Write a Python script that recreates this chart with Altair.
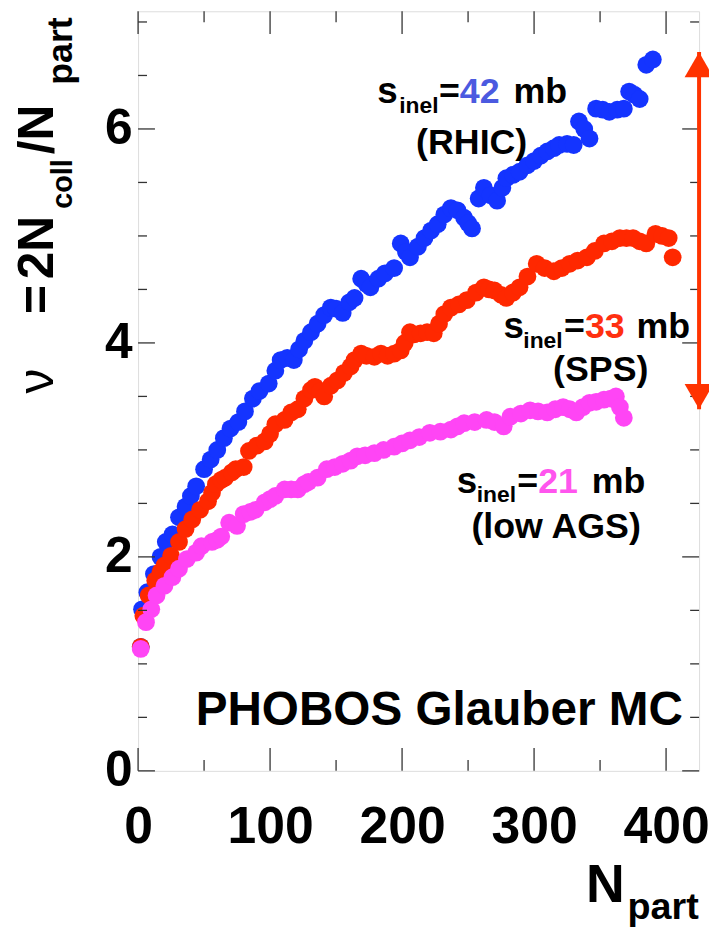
import altair as alt
import pandas as pd

# ---------------- data ----------------
blue_n = [2, 3, 7, 12, 17, 21, 26, 31, 36, 40, 44, 50, 55, 60, 65, 70, 76, 81, 87, 92,
          99, 104, 108, 113, 118, 122, 126, 131, 136, 141, 146, 150, 155, 160, 164, 169,
          173, 176, 182, 187, 194, 199, 203, 206, 212, 217, 222, 227, 232, 237, 242, 247,
          250, 253, 258, 262, 267, 272, 276, 279, 284, 289, 295, 300, 305, 310, 315, 319,
          325, 330, 334, 338, 342, 347, 352, 357, 363, 368, 372, 376, 380, 385, 390]
blue_v = [1.16, 1.51, 1.67, 1.84, 2.0, 2.14, 2.21, 2.37, 2.47, 2.57, 2.66, 2.82, 2.91, 3.0,
          3.11, 3.2, 3.26, 3.36, 3.48, 3.55, 3.62, 3.74, 3.84, 3.86, 3.84, 3.94, 4.02, 4.1,
          4.18, 4.26, 4.33, 4.32, 4.28, 4.38, 4.42, 4.6, 4.55, 4.52, 4.6, 4.65, 4.7, 4.93,
          4.85, 4.8, 4.9, 4.98, 5.05, 5.11, 5.2, 5.26, 5.24, 5.17, 5.12, 5.07, 5.35, 5.45,
          5.38, 5.33, 5.45, 5.54, 5.57, 5.6, 5.66, 5.7, 5.75, 5.79, 5.82, 5.85, 5.86, 5.85,
          6.07, 6.0, 5.91, 6.19, 6.18, 6.16, 6.18, 6.19, 6.35, 6.32, 6.28, 6.6, 6.65]

red_n = [2, 4, 8, 13, 17, 20, 25, 31, 36, 41, 47, 53, 56, 59, 63, 66, 71, 74, 80, 84, 90,
         96, 100, 104, 111, 116, 121, 126, 131, 134, 138, 141, 146, 151, 156, 161, 164, 169,
         173, 179, 184, 189, 194, 199, 202, 206, 209, 214, 219, 224, 228, 232, 237, 243, 249,
         256, 262, 266, 270, 275, 279, 284, 289, 295, 302, 308, 315, 321, 327, 333, 340, 346,
         353, 359, 365, 370, 375, 380, 385, 392, 397, 402, 405]
red_v = [1.16, 1.45, 1.64, 1.78, 1.86, 1.92, 2.01, 2.14, 2.26, 2.35, 2.44, 2.52, 2.6, 2.68,
         2.72, 2.74, 2.79, 2.82, 2.84, 2.99, 3.04, 3.08, 3.15, 3.24, 3.28, 3.35, 3.38, 3.48,
         3.56, 3.59, 3.55, 3.5, 3.6, 3.65, 3.72, 3.78, 3.84, 3.9, 3.88, 3.87, 3.9, 3.88, 3.9,
         3.93, 4.0, 4.1, 4.08, 4.09, 4.1, 4.09, 4.18, 4.27, 4.33, 4.36, 4.4, 4.47, 4.52, 4.5,
         4.49, 4.45, 4.42, 4.47, 4.52, 4.62, 4.74, 4.7, 4.67, 4.7, 4.74, 4.77, 4.8, 4.86,
         4.93, 4.95, 4.98, 4.98, 4.98, 4.95, 4.93, 5.02, 5.0, 4.98, 4.8]

mag_n = [2, 6, 10, 14, 20, 26, 31, 37, 44, 48, 56, 60, 63, 69, 75, 80, 85, 89, 96, 100, 104,
         111, 116, 121, 126, 129, 136, 143, 149, 155, 161, 166, 172, 179, 186, 194, 200, 206,
         213, 221, 229, 237, 242, 247, 255, 264, 270, 277, 282, 290, 297, 303, 310, 316, 322,
         327, 332, 337, 342, 347, 353, 358, 362, 365, 368]
mag_v = [1.14, 1.39, 1.51, 1.64, 1.73, 1.81, 1.89, 1.98, 2.04, 2.1, 2.14, 2.16, 2.19, 2.32,
         2.29, 2.4, 2.42, 2.44, 2.51, 2.54, 2.57, 2.63, 2.63, 2.63, 2.68, 2.7, 2.74, 2.82, 2.84,
         2.87, 2.9, 2.94, 2.95, 2.97, 3.0, 3.03, 3.06, 3.09, 3.12, 3.16, 3.17, 3.19, 3.22, 3.25,
         3.26, 3.28, 3.26, 3.22, 3.31, 3.34, 3.37, 3.36, 3.35, 3.38, 3.4, 3.38, 3.35, 3.4, 3.44,
         3.45, 3.47, 3.48, 3.5, 3.4, 3.3]

series_names = ["42 mb (RHIC)", "33 mb (SPS)", "21 mb (low AGS)"]
series_colors = ["#1434ff", "#ff2800", "#ff45f5"]

x_major = [0, 100, 200, 300, 400]
x_minor = [50, 150, 250, 350]
y_major = [0, 2, 4, 6]
y_minor = [0.5, 1, 1.5, 2.5, 3, 3.5, 4.5, 5, 5.5, 6.5, 7]

arrow_x = [425]
arrow_top = [6.72]
arrow_bottom = [3.38]
arrow_head_up = [6.6]
arrow_head_down = [3.5]

# ---------------- layout ----------------
W, H = 565, 765
FONT = "Liberation Sans"

rows = []
for i, (ns, vs) in enumerate([(blue_n, blue_v), (red_n, red_v), (mag_n, mag_v)]):
    for n, v in zip(ns, vs):
        rows.append({"npart": n, "nu": v, "series": series_names[i], "ord": i})
df = pd.DataFrame(rows)

xs = alt.Scale(domain=[0, 425], nice=False, zero=False)
ys = alt.Scale(domain=[0, 7.1], nice=False, zero=False)

x_axis = alt.Axis(values=x_major, format="d", labelFontSize=52, labelFont=FONT,
                  labelFontWeight="bold", labelColor="black", ticks=False, tickSize=0,
                  domain=False, grid=False, labelPadding=31, title=None, labelFlush=False)
y_axis = alt.Axis(values=y_major, format="d", labelFontSize=50, labelFont=FONT,
                  labelFontWeight="bold", labelColor="black", ticks=False, tickSize=0,
                  domain=False, grid=False, labelPadding=6, title=None, labelFlush=False)

points = alt.Chart(df).mark_circle(size=320, opacity=1).encode(
    x=alt.X("npart:Q", scale=xs, axis=x_axis),
    y=alt.Y("nu:Q", scale=ys, axis=y_axis),
    color=alt.Color("series:N", scale=alt.Scale(domain=series_names, range=series_colors),
                    legend=None),
    order=alt.Order("ord:Q"),
)

TICK_COLOR = "#333"


def yticks(vals, length, right=False):
    d = pd.DataFrame({"v": vals})
    x0 = W if right else 0
    x1 = W - length if right else length
    return alt.Chart(d).mark_rule(color=TICK_COLOR, strokeWidth=1.3).encode(
        y=alt.Y("v:Q", scale=ys), x=alt.value(x0), x2=alt.value(x1))


def xticks(vals, length, top=False):
    d = pd.DataFrame({"n": vals})
    y0 = 0 if top else H
    y1 = length if top else H - length
    return alt.Chart(d).mark_rule(color=TICK_COLOR, strokeWidth=1.3).encode(
        x=alt.X("n:Q", scale=xs), y=alt.value(y0), y2=alt.value(y1))


ticks = [
    yticks(y_major, 17), yticks(y_minor, 9),
    yticks(y_major, 17, right=True), yticks(y_minor, 9, right=True),
    xticks(x_major, 23), xticks(x_minor, 11),
    xticks(x_major, 23, top=True), xticks(x_minor, 11, top=True),
]

arrow_df = pd.DataFrame({"x": arrow_x, "top": arrow_top, "bot": arrow_bottom})
ARROW = "#ff3300"
arrow_line = alt.Chart(arrow_df).mark_rule(color=ARROW, strokeWidth=4).encode(
    x=alt.X("x:Q", scale=xs), y=alt.Y("top:Q", scale=ys), y2="bot:Q")
head_up = alt.Chart(pd.DataFrame({"x": arrow_x, "v": arrow_head_up})).mark_point(
    shape="triangle-up", filled=True, size=850, color=ARROW, opacity=1).encode(
    x=alt.X("x:Q", scale=xs), y=alt.Y("v:Q", scale=ys))
head_down = alt.Chart(pd.DataFrame({"x": arrow_x, "v": arrow_head_down})).mark_point(
    shape="triangle-down", filled=True, size=850, color=ARROW, opacity=1).encode(
    x=alt.X("x:Q", scale=xs), y=alt.Y("v:Q", scale=ys))


def txt(s, x, y, size, color="black", align="left", angle=0, baseline="alphabetic",
        weight="bold"):
    d = pd.DataFrame({"t": [s]})
    return alt.Chart(d).mark_text(
        font=FONT, fontWeight=weight, fontSize=size, color=color, align=align,
        baseline=baseline, angle=angle).encode(
        text="t:N", x=alt.value(x), y=alt.value(y))


OX, OY = 139, 8  # plot origin on the page
labels = [
    # sigma = 42 mb (RHIC)
    txt("s", 380 - OX, 100 - OY, 37),
    txt("inel", 402 - OX, 110 - OY, 23),
    txt("=", 442 - OX, 100 - OY, 36),
    txt("42", 463 - OX, 100 - OY, 36, color="#4b5ae0"),
    txt("mb", 517 - OX, 100 - OY, 36),
    txt("(RHIC)", 475 - OX, 152 - OY, 36, align="center"),
    # sigma = 33 mb (SPS)
    txt("s", 507 - OX, 337 - OY, 37),
    txt("inel", 527 - OX, 347 - OY, 23),
    txt("=", 568 - OX, 337 - OY, 36),
    txt("33", 589 - OX, 337 - OY, 36, color="#ff3010"),
    txt("mb", 641 - OX, 337 - OY, 36),
    txt("(SPS)", 605 - OX, 380 - OY, 36, align="center"),
    # sigma = 21 mb (low AGS)
    txt("s", 460 - OX, 493 - OY, 37),
    txt("inel", 480 - OX, 502 - OY, 23),
    txt("=", 521 - OX, 493 - OY, 36),
    txt("21", 542 - OX, 493 - OY, 36, color="#ff55ee"),
    txt("mb", 596 - OX, 493 - OY, 36),
    txt("(low AGS)", 560 - OX, 538 - OY, 36, align="center"),
    # PHOBOS label
    txt("PHOBOS Glauber MC", 197 - OX, 727 - OY, 48),
    # y-axis title (rotated pieces)
    txt("ν", 53 - OX, 393 - OY, 50, angle=270, weight="normal"),
    txt("=", 53 - OX, 313 - OY, 50, angle=270),
    txt("2N", 53 - OX, 278 - OY, 50, angle=270),
    txt("coll", 72 - OX, 207 - OY, 29, angle=270),
    txt("/N", 53 - OX, 152 - OY, 50, angle=270),
    txt("part", 72 - OX, 82 - OY, 36, angle=270),
    # x-axis title
    txt("N", 590 - OX, 905 - OY, 54),
    txt("part", 632 - OX, 922 - OY, 38),
]

chart = alt.layer(points, *ticks, arrow_line, head_up, head_down, *labels).properties(
    width=W, height=H,
    padding={"left": 131, "top": 0, "right": 10, "bottom": 160},
    autosize=alt.AutoSizeParams(type="none"),
).configure_view(stroke="#333", strokeWidth=1.5).configure(background="white")

chart.save("out.html", embed_options={"renderer": "svg", "actions": False})
